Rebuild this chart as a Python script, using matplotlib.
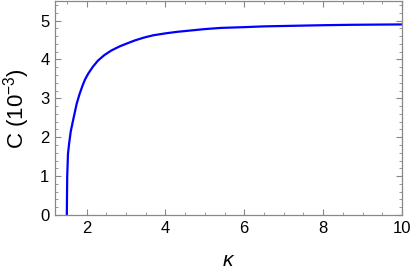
import matplotlib
matplotlib.use("Agg")
import matplotlib.pyplot as plt
from matplotlib.ticker import MultipleLocator

# values
kappa = [1.50, 1.505, 1.51, 1.53, 1.56, 1.60, 1.66, 1.75, 1.82, 1.90, 1.96, 2.04,
         2.16, 2.29, 2.45, 2.63, 2.85, 3.05, 3.23, 3.45, 3.69, 4.00, 4.30,
         4.60, 5.00, 5.40, 6.00, 6.50, 7.00, 7.50, 8.00, 8.70, 9.30, 10.0]
C = [0.0, 0.50, 0.98, 1.58, 1.85, 2.15, 2.44, 2.86, 3.10, 3.33, 3.48, 3.63,
     3.81, 3.97, 4.11, 4.23, 4.34, 4.42, 4.49, 4.56, 4.62, 4.67, 4.71,
     4.74, 4.78, 4.81, 4.83, 4.85, 4.86, 4.87, 4.88, 4.89, 4.895, 4.90]

plt.rcParams['font.family'] = ['Liberation Sans', 'DejaVu Sans']
plt.rcParams['mathtext.fontset'] = 'custom'
plt.rcParams['mathtext.rm'] = 'Liberation Sans'
plt.rcParams['mathtext.it'] = 'Liberation Sans:italic'

fig = plt.figure(figsize=(4.15, 2.73), dpi=100)
ax = fig.add_axes([0.1325, 0.2125, 0.836, 0.7835])

ax.plot(kappa, C, color='#0000ff', lw=1.6, solid_capstyle='butt')

ax.set_xlim(1.2, 10)
ax.set_ylim(0, 5.5)
ax.xaxis.set_major_locator(MultipleLocator(2))
ax.xaxis.set_minor_locator(MultipleLocator(0.5))
ax.yaxis.set_major_locator(MultipleLocator(1))
ax.yaxis.set_minor_locator(MultipleLocator(0.2))

for s in ax.spines.values():
    s.set_color('#888888')
    s.set_linewidth(0.9)
ax.tick_params(which='both', direction='in', top=True, right=True,
               color='#888888', labelsize=12, labelcolor='black')
ax.tick_params(which='major', length=4, width=0.8, pad=4)
ax.tick_params(which='minor', length=2.3, width=0.6)

ax.set_xlabel(r'$\kappa$', fontsize=15, labelpad=11)
ax.set_ylabel(r'C (10$^{\mathregular{-3}}$)', fontsize=16, labelpad=6)

fig.savefig('out.png', dpi=100)
